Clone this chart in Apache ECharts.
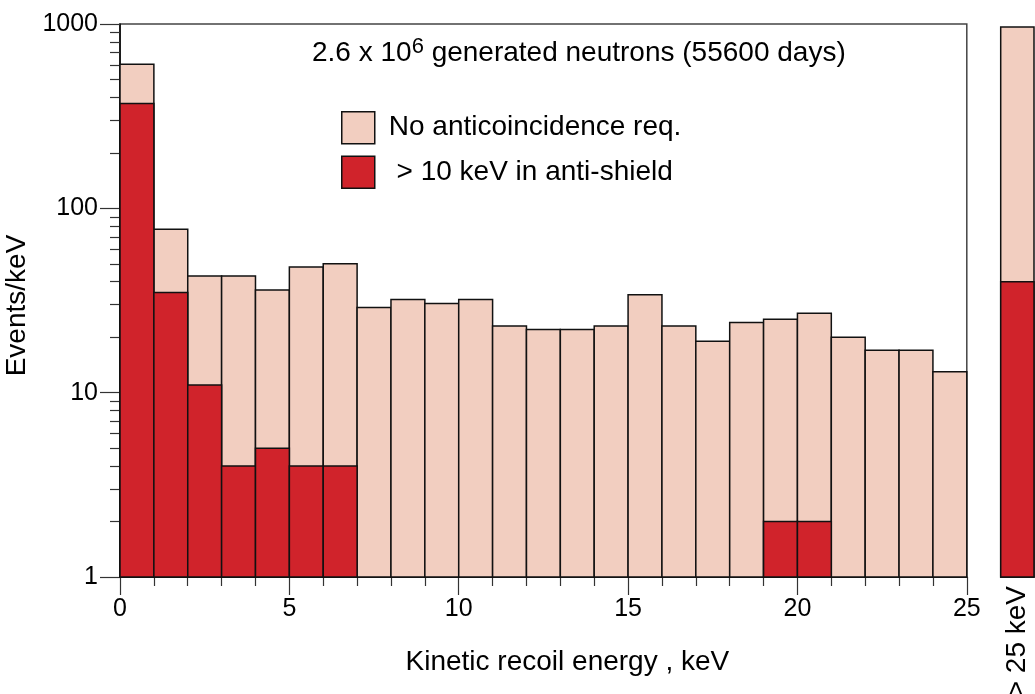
<!DOCTYPE html>
<html>
<head>
<meta charset="utf-8">
<script src="https://cdn.jsdelivr.net/npm/echarts@6/dist/echarts.min.js"></script>
<style>
html,body{margin:0;padding:0;background:#fff;}
#chart{width:1035px;height:694px;}
</style>
</head>
<body>
<div id="chart"></div>
<script>
// ---- data ----
const binStarts = [0,1,2,3,4,5,6,7,8,9,10,11,12,13,14,15,16,17,18,19,20,21,22,23,24];
const binWidth = 1;
const totalEvents = [605,77,43,43,36,48,50,29,32,30.5,32,23,22,22,23,34,23,19,24,25,27,20,17,17,13];
const antiEvents = [370,35,11,4,5,4,4,null,null,null,null,null,null,null,null,null,null,null,null,2,2,null,null,null,null];
const overflowTotal = [963];
const overflowAnti = [40];
const xTickLabels = [0,5,10,15,20,25];
const yMajorTicks = [1,10,100,1000];
const yMinorTicks = [2,3,4,5,6,7,8,9,20,30,40,50,60,70,80,90,200,300,400,500,600,700,800,900];
const nameTotal = 'No anticoincidence req.';
const nameAnti = ' > 10 keV in anti-shield';
const overflowLabel = '> 25 keV';

const LIGHT = '#F2CEC0';
const RED = '#D0232B';
const EDGE = '#111';
const FONT = 'Liberation Sans, Arial, sans-serif';

function histData(starts, vals){
  const out = [];
  starts.forEach((s,i)=>{ if(vals[i]!=null) out.push([s, s+binWidth, vals[i]]); });
  return out;
}
function renderBin(params, api){
  const x0 = api.value(0), x1 = api.value(1), v = api.value(2);
  const p0 = api.coord([x0, v]);
  const p1 = api.coord([x1, 1]);
  return {type:'rect', shape:{x:p0[0], y:p0[1], width:p1[0]-p0[0], height:p1[1]-p0[1]}, style: api.style()};
}

const chart = echarts.init(document.getElementById('chart'));
const option = {
  backgroundColor:'#fff',
  animation:false,
  textStyle:{fontFamily:FONT, color:'#000'},
  title:{
    left:312, top:36, padding:0,
    text:'{a|2.6 x 10}{s|6}{a| generated neutrons (55600 days)}',
    textStyle:{
      fontWeight:'normal',
      rich:{
        a:{fontSize:28, fontWeight:'normal', fontFamily:FONT, color:'#000', lineHeight:34},
        s:{fontSize:22, fontWeight:'normal', fontFamily:FONT, color:'#000', verticalAlign:'top'}
      }
    }
  },
  legend:{
    orient:'vertical', left:341, top:111, padding:0,
    itemWidth:33, itemHeight:32, itemGap:11,
    textStyle:{fontSize:28, fontFamily:FONT, color:'#000', padding:[0,0,0,9]},
    data:[
      {name:nameTotal, icon:'rect', itemStyle:{color:LIGHT, borderColor:EDGE, borderWidth:1.5}},
      {name:nameAnti, icon:'rect', itemStyle:{color:RED, borderColor:EDGE, borderWidth:1.5}}
    ]
  },
  grid:[
    {left:120, top:24, width:846.8, height:553, show:true, borderColor:'#444', borderWidth:1.5, backgroundColor:'transparent', containLabel:false, outerBoundsMode:'none'},
    {left:1000.7, top:24, width:33.3, height:553, show:false, containLabel:false, outerBoundsMode:'none'}
  ],
  xAxis:[
    {type:'value', gridIndex:0, min:0, max:25, interval:5,
     name:'Kinetic recoil energy , keV', nameLocation:'middle', nameGap:71,
     nameTextStyle:{fontSize:28, fontFamily:FONT, color:'#000', padding:[0,0,0,48]},
     axisLine:{show:true, onZero:false, lineStyle:{color:'#000', width:1.5}},
     axisTick:{show:true, length:18, lineStyle:{color:'#333', width:1.2}},
     minorTick:{show:true, splitNumber:5, length:9, lineStyle:{color:'#333', width:1.2}},
     axisLabel:{fontSize:25, fontFamily:FONT, color:'#000', margin:20,
                formatter:(v)=> xTickLabels.indexOf(v)>=0 ? String(v) : ''},
     splitLine:{show:false}},
    {type:'value', gridIndex:1, min:0, max:1,
     name:overflowLabel, nameLocation:'middle', nameGap:9, nameRotate:90,
     nameTextStyle:{fontSize:28, fontFamily:FONT, color:'#000', padding:[0,0,0,4]},
     axisLine:{show:true, onZero:false, lineStyle:{color:'#000', width:1.5}},
     axisTick:{show:false}, axisLabel:{show:false}, splitLine:{show:false}}
  ],
  yAxis:[
    {type:'log', logBase:10, gridIndex:0, min:1, max:1000,
     name:'Events/keV', nameLocation:'middle', nameGap:70,
     nameTextStyle:{fontSize:28, fontFamily:FONT, color:'#000', padding:[0,10,0,0]},
     axisLine:{show:true, lineStyle:{color:'#000', width:1.5}},
     axisTick:{show:true, length:20, lineStyle:{color:'#333', width:1.2}, customValues:yMajorTicks},
     axisLabel:{fontSize:25, fontFamily:FONT, color:'#000', margin:22, customValues:yMajorTicks,
                formatter:(v)=> String(Math.round(v))},
     splitLine:{show:false}},
    {type:'log', logBase:10, gridIndex:0, min:1, max:1000, position:'left',
     axisLine:{show:false},
     axisTick:{show:true, length:10, lineStyle:{color:'#333', width:1.2}, customValues:yMinorTicks},
     axisLabel:{show:false}, splitLine:{show:false}},
    {type:'log', logBase:10, gridIndex:1, min:1, max:1000, show:false}
  ],
  series:[
    {type:'custom', name:nameTotal, xAxisIndex:0, yAxisIndex:0, renderItem:renderBin,
     itemStyle:{color:LIGHT, borderColor:EDGE, borderWidth:1.5}, encode:{x:[0,1], y:2},
     data:histData(binStarts, totalEvents), z:2},
    {type:'custom', name:nameAnti, xAxisIndex:0, yAxisIndex:0, renderItem:renderBin,
     itemStyle:{color:RED, borderColor:EDGE, borderWidth:1.5}, encode:{x:[0,1], y:2},
     data:histData(binStarts, antiEvents), z:3},
    {type:'custom', name:nameTotal, xAxisIndex:1, yAxisIndex:2, renderItem:renderBin,
     itemStyle:{color:LIGHT, borderColor:EDGE, borderWidth:1.5}, encode:{x:[0,1], y:2},
     data:histData([0], overflowTotal), z:2},
    {type:'custom', name:nameAnti, xAxisIndex:1, yAxisIndex:2, renderItem:renderBin,
     itemStyle:{color:RED, borderColor:EDGE, borderWidth:1.5}, encode:{x:[0,1], y:2},
     data:histData([0], overflowAnti), z:3}
  ]
};
chart.setOption(option);
</script>
</body>
</html>
